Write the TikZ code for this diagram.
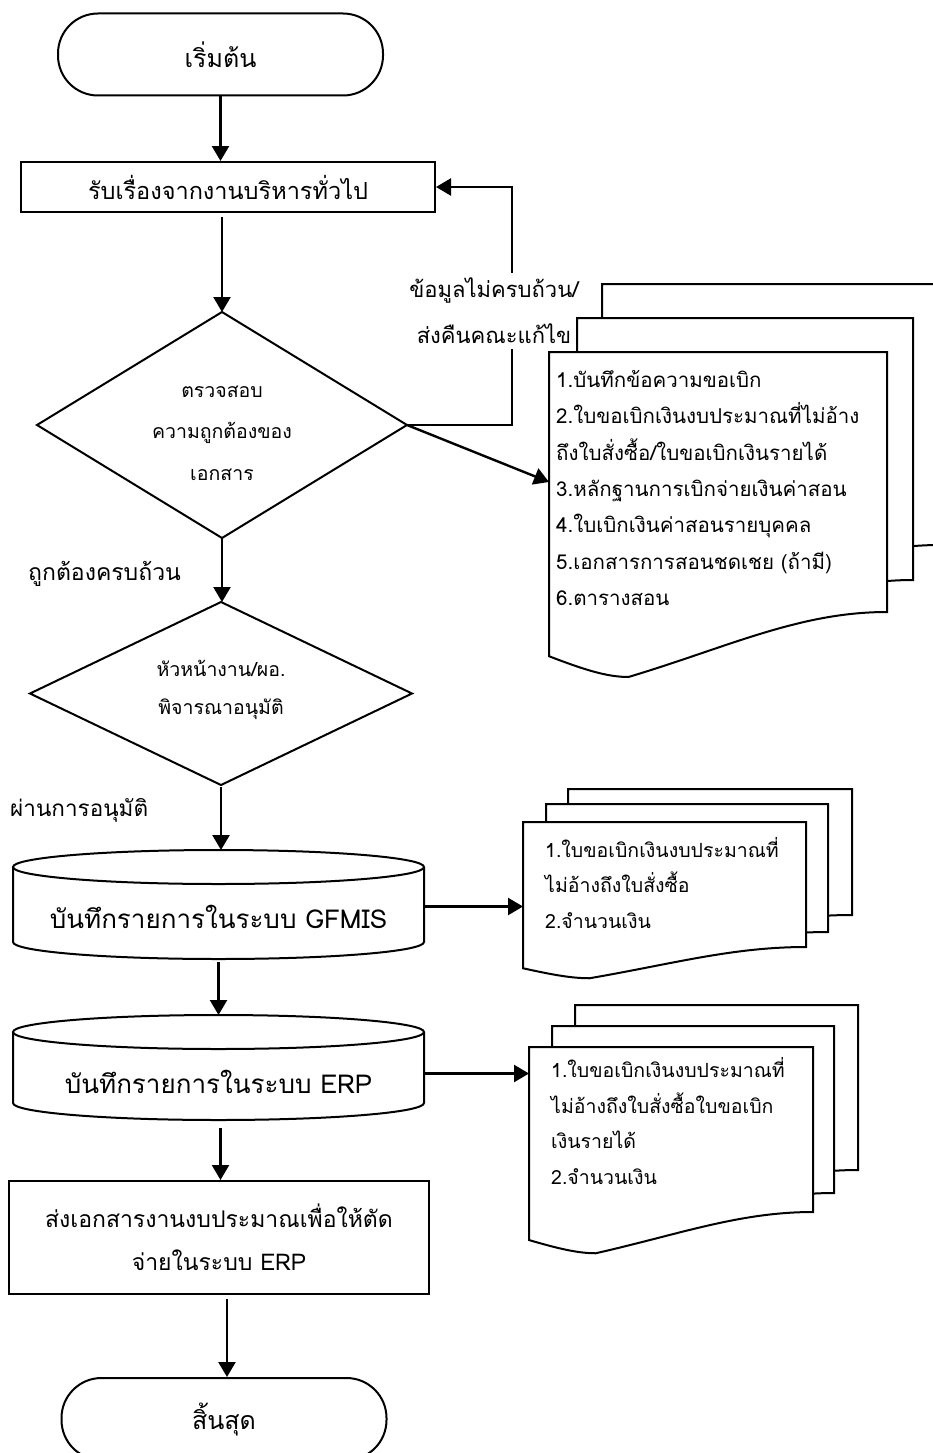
\documentclass[tikz,border=0pt]{standalone}
\usepackage{fontspec}
\setmainfont[Script=Thai]{Loma}
\usetikzlibrary{shapes.geometric,arrows.meta,calc}

\newcommand\fsz[2]{\fontsize{#1}{#2}\selectfont}

% one sheet of a document stack: left, top, right, bottom-right
\newcommand\docsheet[4]{%
  \pgfmathsetmacro\shW{#3-#1}\pgfmathsetmacro\shH{#4-#2}%
  \draw[sheet] (#1,#2) -- (#3,#2) -- (#3,#4)
    .. controls ({#1+0.74*\shW},{#4}) and ({#1+0.53*\shW},{#4+0.135*\shH}) .. ({#1+0.235*\shW},{#4+0.25*\shH})
    .. controls ({#1+0.17*\shW},{#4+0.25*\shH}) and ({#1+0.1*\shW},{#4+0.22*\shH}) .. ({#1},{#4+0.17*\shH}) -- cycle;
}
% database drum: centre x, top, bottom, x radius
\newcommand\drum[4]{%
  \draw[shape line] (#1,{#2+17}) ellipse[x radius=#4, y radius=17];
  \draw[shape line] ({#1-#4},{#2+17}) -- ({#1-#4},{#3-17})
    arc[start angle=180, end angle=0, x radius=#4, y radius=17] -- ({#1+#4},{#2+17});
}

\tikzset{
  shape line/.style={line width=2pt, draw=black},
  sheet/.style={shape line, fill=white, line join=miter},
  flow/.style={line width=2.4pt, draw=black, -{Triangle[length=15pt,width=17pt]}},
  terminal/.style={shape line, rounded corners=40pt, minimum width=325pt, minimum height=82pt, inner sep=0pt, font=\fsz{25}{30}},
  process/.style={shape line, inner sep=0pt, align=center},
  decision/.style={diamond, shape line, inner sep=0pt, outer sep=0pt},
  slot/.style={inner sep=0pt, outer sep=0pt},
  caption/.style={inner sep=0pt, align=center},
  lbl/.style={inner sep=0pt, align=center},
  doctext/.style={inner sep=0pt, align=left, anchor=west, font=\fsz{20}{36}},
}

\begin{document}
\begin{tikzpicture}[x=1pt, y=-1pt]
\useasboundingbox (0,0) rectangle (933,1453);
\clip (0,0) rectangle (933,1453);

% main column
\node[terminal] (start) at (220.5,54.5) {เริ่มต้น};
\node[process, minimum width=414pt, minimum height=50pt, font=\fsz{23.5}{30}] (recv) at (228,187) {รับเรื่องจากงานบริหารทั่วไป};

\node[decision, minimum width=370pt, minimum height=226pt, aspect=1.64] (check) at (222,425) {};
\node[caption, font=\fsz{19.5}{41.5}] (checktext) at (222,433) {ตรวจสอบ\\ความถูกต้องของ\\เอกสาร};

\node[decision, minimum width=382pt, minimum height=183pt, aspect=2.09] (approve) at (221,693.5) {};
\node[caption, font=\fsz{19.5}{38}] (approvetext) at (221,690) {หัวหน้างาน/ผอ.\\พิจารณาอนุมัติ};

\node[slot, minimum width=411pt, minimum height=109pt] (gfmis) at (218.5,904.5) {};
\drum{218.5}{850}{959}{205.5}
\node[caption, font=\fsz{26}{32}] (gfmistext) at (218.5,917) {บันทึกรายการในระบบ GFMIS};

\node[slot, minimum width=411pt, minimum height=105pt] (erp) at (218.5,1067.5) {};
\drum{218.5}{1015}{1120}{205.5}
\node[caption, font=\fsz{26}{32}] (erptext) at (218.5,1082) {บันทึกรายการในระบบ ERP};

\node[process, minimum width=420pt, minimum height=113pt, font=\fsz{23}{43}] (send) at (219,1237.5)
  {ส่งเอกสารงานงบประมาณเพื่อให้ตัด\\จ่ายในระบบ ERP};
\node[terminal] (stop) at (224,1419) {สิ้นสุด};

% main flow
\draw[flow] (start.south) -- (start.south |- recv.north);
\draw[flow] (check.north |- recv.south) ++(0,4) -- (check.north);
\draw[flow] (check.south) -- (check.south |- approve.north);
\draw[flow] (approve.south) ++(0,2) -- (approve.south |- gfmis.north);
\draw[flow] (gfmis.south) ++(0,3) -- (gfmis.south |- erp.north);
\draw[flow] (erp.south) ++(2,8) -- ([xshift=2pt]erp.south |- send.north);
\draw[flow] (stop.north |- send.south) ++(3,4) -- ([xshift=3pt]stop.north);

\node[lbl, anchor=west, font=\fsz{23}{30}] (okay) at (28,574) {ถูกต้องครบถ้วน};
\node[lbl, anchor=west, font=\fsz{22.5}{30}] (passed) at (10,810) {ผ่านการอนุมัติ};

% return loop
\coordinate (loopx) at (512,300);
\draw[flow] (check.east) -| (loopx) |- (recv.east);
\node[lbl, fill=white, inner sep=5pt, font=\fsz{22}{46}] (retlbl) at (494,311) {ข้อมูลไม่ครบถ้วน/\\ส่งคืนคณะแก้ไข};

% document stack: request papers
\docsheet{602}{284}{940}{545}
\docsheet{577}{318}{913}{580}
\docsheet{549}{352}{887}{612}
\node[slot, minimum width=338pt, minimum height=260pt, anchor=north west] (docsA) at (549,352) {};
\node[doctext, font=\fsz{20.5}{36.3}] (docsAtext) at (556,488) {%
  1.บันทึกข้อความขอเบิก\\
  2.ใบขอเบิกเงินงบประมาณที่ไม่อ้าง\\
  ถึงใบสั่งซื้อ/ใบขอเบิกเงินรายได้\\
  3.หลักฐานการเบิกจ่ายเงินค่าสอน\\
  4.ใบเบิกเงินค่าสอนรายบุคคล\\
  5.เอกสารการสอนชดเชย (ถ้ามี)\\
  6.ตารางสอน};
\draw[flow] (check.east) -- (docsA.west);

% document stack: GFMIS output
\docsheet{568}{789}{852}{915}
\docsheet{546}{804}{828}{932}
\docsheet{523}{822}{806}{947}
\node[slot, minimum width=283pt, minimum height=125pt, anchor=north west] (docsB) at (523,822) {};
\node[doctext, font=\fsz{19.5}{35.5}] (docsBtext) at (545,883) {%
  1.ใบขอเบิกเงินงบประมาณที่\\
  ไม่อ้างถึงใบสั่งซื้อ\\
  2.จำนวนเงิน};
\draw[flow] ([yshift=-2pt]gfmis.east) -- ([yshift=-2pt]gfmis.east -| docsB.west);

% document stack: ERP output
\docsheet{575}{1005}{858}{1170}
\docsheet{552}{1026}{834}{1193}
\docsheet{529}{1047}{813}{1212}
\node[slot, minimum width=284pt, minimum height=165pt, anchor=north west] (docsC) at (529,1047) {};
\node[doctext, font=\fsz{19.5}{35.7}] (docsCtext) at (551,1121) {%
  1.ใบขอเบิกเงินงบประมาณที่\\
  ไม่อ้างถึงใบสั่งซื้อใบขอเบิก\\
  เงินรายได้\\
  2.จำนวนเงิน};
\draw[flow] ([yshift=-6pt]erp.east) -- ([yshift=-6pt]erp.east -| docsC.west);
\end{tikzpicture}
\end{document}
